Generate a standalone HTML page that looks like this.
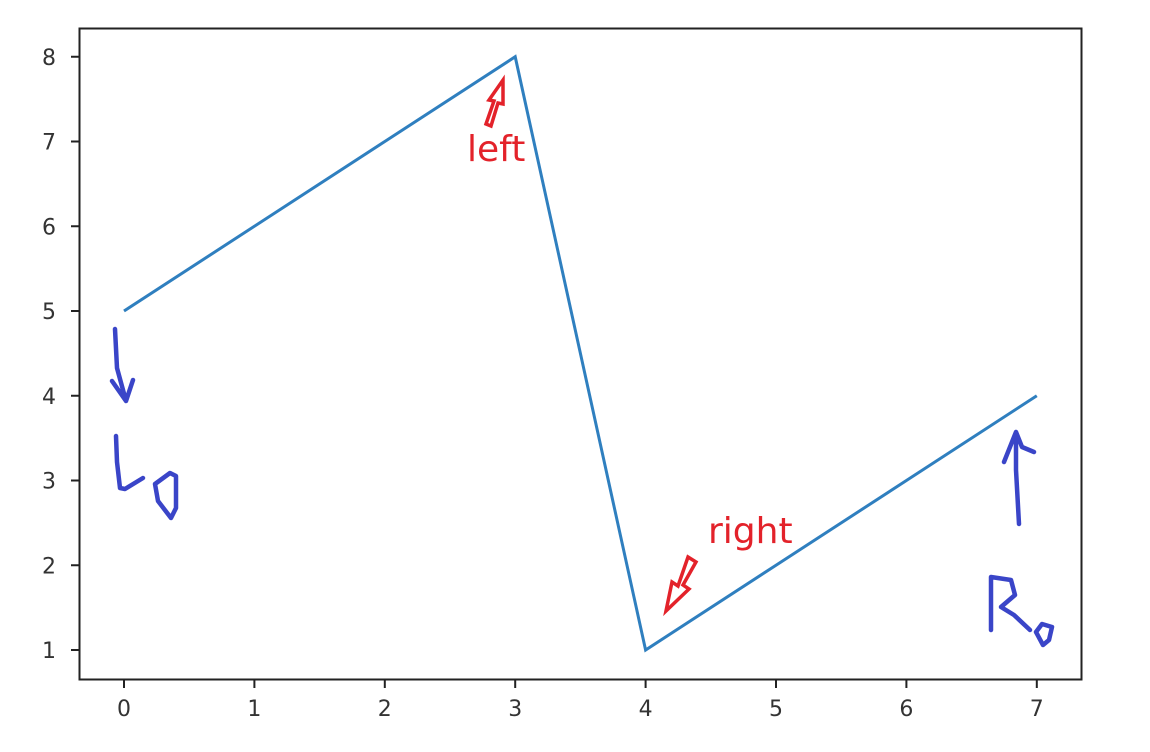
<!DOCTYPE html>
<html><head><meta charset="utf-8"><style>
html,body{margin:0;padding:0;background:#fff;width:1150px;height:752px;overflow:hidden}
svg{display:block}
text{font-family:"DejaVu Sans","Liberation Sans",sans-serif}
</style></head><body>
<svg id="chart" width="1150" height="752">
<rect x="79.5" y="28.5" width="1002" height="651" fill="none" stroke="#222" stroke-width="2"/>
<g id="ticks"></g>
<polyline id="series" fill="none" stroke="#2f7fbf" stroke-width="3"/>
<g>
<polygon points="486,124 494,101 489,100 503,80 503,104 498,103 491,126" fill="#fff" stroke="#e3222a" stroke-width="3.5" stroke-linejoin="miter"/>
<text x="467" y="161" font-size="36" fill="#e3222a" font-family="Liberation Sans,sans-serif">left</text>
</g>
<g>
<polygon points="688,557 696,562 683,585 689,589 666,611 672,582 678,586" fill="#fff" stroke="#e3222a" stroke-width="3.5"/>
<text x="708" y="543" font-size="36" fill="#e3222a" font-family="Liberation Sans,sans-serif">right</text>
</g>
<g fill="none" stroke="#3a45c8" stroke-width="4.5" stroke-linecap="round" stroke-linejoin="round">
<path d="M115,329 L117,368 L126,401 M112,381 L126,401 L133,380"/>
<path d="M116,436 L117,462 L120,488 L125,489 L143,478"/>
<path d="M155,484 L170,473 L176,476 L176,508 L171,518 L158,501 L155,484"/>
</g>
<g fill="none" stroke="#3a45c8" stroke-width="4.5" stroke-linecap="round" stroke-linejoin="round">
<path d="M1019,524 L1016,470 L1016,432 M1004,462 L1016,432 L1022,447 L1034,452"/>
<path d="M991,630 L991,577 L1011,580 L1015,595 L1001,607 L1014,615 L1030,630"/>
<path d="M1036,632 L1042,624 L1052,627 L1049,640 L1043,645 Z"/>
</g>
</svg>
<script>
const xCats=[0,1,2,3,4,5,6,7];
const yVals=[5,6,7,8,1,2,3,4];
const xTicks=[0,1,2,3,4,5,6,7];
const yTicks=[1,2,3,4,5,6,7,8];
const NS="http://www.w3.org/2000/svg";
function sx(v){return 124+v*130.4;}
function sy(v){return 650-(v-1)*84.75;}
const g=document.getElementById('ticks');
function mk(t,a){const e=document.createElementNS(NS,t);for(const k in a)e.setAttribute(k,a[k]);g.appendChild(e);return e;}
xTicks.forEach(t=>{
 const l=mk('line',{x1:sx(t),x2:sx(t),y1:680,y2:688,stroke:'#222','stroke-width':2});
 
 
 const tx=mk('text',{x:sx(t),y:716,'font-size':22,fill:'#333','text-anchor':'middle'});
 tx.textContent=t;
 
 
});
yTicks.forEach(t=>{
 const l=mk('line',{x1:71,x2:79,y1:sy(t),y2:sy(t),stroke:'#222','stroke-width':2});
 
 
 const tx=mk('text',{x:56,y:sy(t)+8,'font-size':22,fill:'#333','text-anchor':'end'});
 tx.textContent=t;
 
 
});
document.getElementById('series').setAttribute('points',xCats.map((x,i)=>sx(x)+','+sy(yVals[i])).join(' '));
</script>
</body></html>
